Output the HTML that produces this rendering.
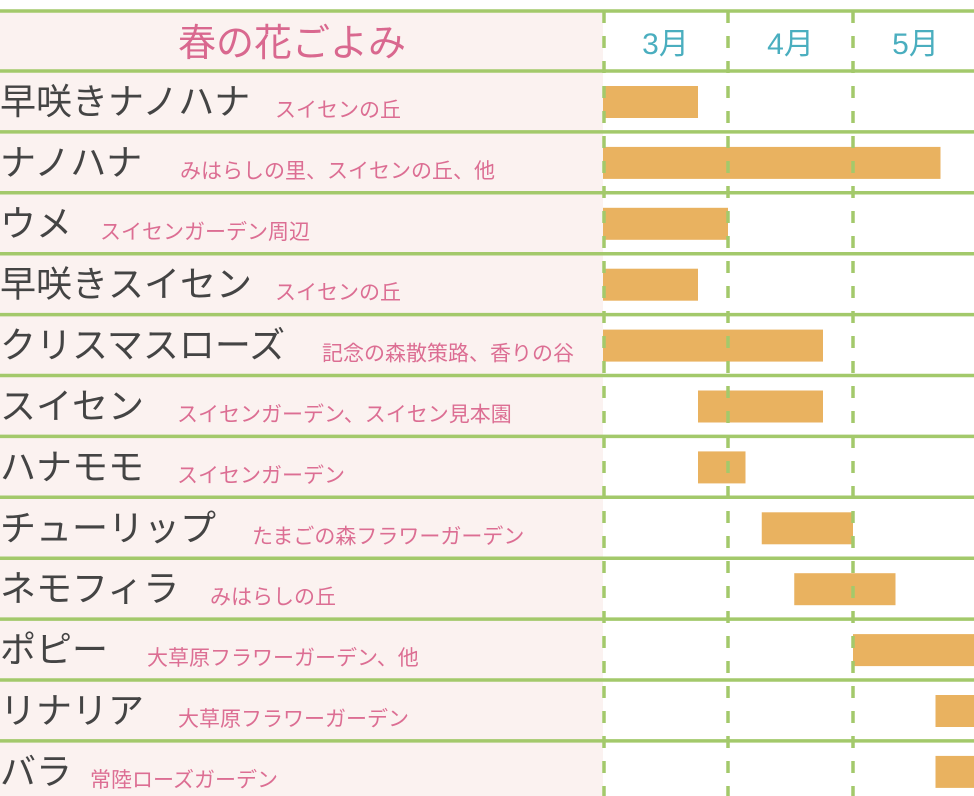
<!DOCTYPE html>
<html><head><meta charset="utf-8"><style>
body{margin:0;background:#fff;}
svg{display:block;font-family:"Liberation Sans","Noto Sans CJK JP",sans-serif;}
</style></head><body>
<svg id="chart" width="974" height="796">
<rect x="0" y="11" width="603" height="785" fill="#fbf2f0"/>
<text x="292" y="56" text-anchor="middle" font-size="38" fill="#d9688f">春の花ごよみ</text>
<g id="grid"></g><g id="bars"></g><g id="labels"></g>
</svg>
<script>
const names=["早咲きナノハナ","ナノハナ","ウメ","早咲きスイセン","クリスマスローズ","スイセン","ハナモモ","チューリップ","ネモフィラ","ポピー","リナリア","バラ"];
const places=["スイセンの丘","みはらしの里、スイセンの丘、他","スイセンガーデン周辺","スイセンの丘","記念の森散策路、香りの谷","スイセンガーデン、スイセン見本園","スイセンガーデン","たまごの森フラワーガーデン","みはらしの丘","大草原フラワーガーデン、他","大草原フラワーガーデン","常陸ローズガーデン"];
const starts=[0,0,0,0,0,0.76,0.76,1.27,1.53,2.0,2.66,2.66];
const ends=[0.76,2.70,1.0,0.76,1.76,1.76,1.14,2.0,2.34,3.0,3.0,3.0];
const months=["3月","4月","5月"];
const placeX=[275,180,100,275,322,177,177,252,210,147,178,90];
const NS="http://www.w3.org/2000/svg";
const x0=603,mw=125,top0=71,rh=60.9;
const xs=v=>x0+v*mw, ys=i=>top0+i*rh;
function mk(tag,attrs,parent){const e=document.createElementNS(NS,tag);for(const k in attrs)e.setAttribute(k,attrs[k]);document.getElementById(parent).appendChild(e);return e;}
// month labels and dashed lines
months.forEach((m,i)=>{
  const t=mk("text",{x:xs(i+0.5),y:54,"text-anchor":"middle","font-size":"30",fill:"#4aaebf"},"labels");
  
  
  t.textContent=m;
});
// bars
names.forEach((n,i)=>{
  const r=mk("rect",{x:xs(starts[i]),y:ys(i)+15,width:xs(Math.min(ends[i],3.2))-xs(starts[i]),height:32,fill:"#e9b260"},"bars");
  
  
  const t=mk("text",{x:0,y:ys(i)+43,"font-size":"36",fill:"#444"},"labels");
  
  
  t.textContent=n;
  const p=mk("text",{x:placeX[i],y:ys(i)+46,"font-size":"21",fill:"#dc6e93"},"labels");
  
  
  p.textContent=places[i];
});
// horizontal lines
for(let i=-1;i<=12;i++){
  const y=i<0?11:ys(i);
  const l=mk("line",{x1:0,x2:974,y1:y,y2:y,stroke:"#a3c96b","stroke-width":"3.5"},"grid");
  
  
}
// vertical dashed month lines
for(let i=0;i<3;i++){
  const l=mk("line",{x1:xs(i)+(i==0?1:0),x2:xs(i)+(i==0?1:0),y1:11,y2:796,stroke:"#a3c96b","stroke-width":"3.5","stroke-dasharray":"12 13"},"bars");
  
  
}
</script>
</body></html>
